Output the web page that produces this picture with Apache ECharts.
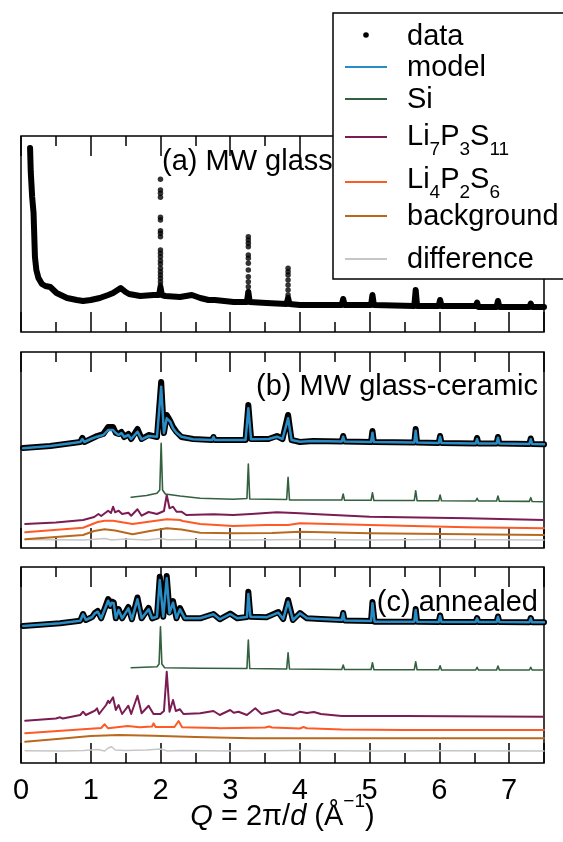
<!DOCTYPE html>
<html>
<head>
<meta charset="utf-8">
<script src="https://cdn.jsdelivr.net/npm/echarts@6/dist/echarts.min.js"></script>
<style>
    html, body { margin: 0; padding: 0; background: #fff; }
    #chart { width: 563px; height: 842px; }
</style>
</head>
<body>
<div id="chart"></div>
<script>
// 每个面板的强度数据 [Q, 强度]（任意单位，每个面板 0..196）
// (a) MW glass
const dataA = [[0.13,184],[0.14,160],[0.16,135],[0.18,119],[0.2,75],[0.22,62],[0.25,54],[0.3,48],[0.35,46],[0.42,45],[0.45,43],
    [0.51,39],[0.6,36],[0.66,34],[0.8,32],[0.89,31],[1.0,32],[1.13,34],[1.25,37],[1.32,39],[1.43,44],[1.5,40],[1.55,38],[1.71,36],
    [1.9,37],[1.98,37],[2.0,45],[2.02,37],[2.07,36],[2.28,35],[2.45,37],[2.57,34],[2.69,32],[2.78,32],[3.05,30],[3.24,30],[3.26,40],
    [3.28,30],[3.52,29],[3.81,28],[3.83,34],[3.85,28],[4.0,27],[4.6,27],[4.62,33],[4.64,27],[5.02,27],[5.04,37],[5.06,27],[5.64,26],
    [5.66,42],[5.68,26],[5.99,26],[6.01,32],[6.03,26],[6.52,26],[6.54,29.5],[6.56,25],[6.82,25],[6.84,31],[6.86,25],[7.29,25],
    [7.31,28.5],[7.33,25],[7.5,25]]
const dataPeaksA = [[2.0,152.7],[2.0,142],[2.0,138.7],[2.0,134.7],[2.0,114.7],[2.0,112],[2.0,101.3],[2.0,98.7],[2.0,95.3],[2.0,82],
    [2.0,78.7],[2.0,75.3],[2.0,71.3],[2.0,68],[2.0,63.7],[2.0,60.3],[2.0,57],[2.0,53.7],[2.0,50.3],[2.0,47],
    [3.26,95.3],[3.26,92],[3.26,88.7],[3.26,85.3],[3.26,77],[3.26,73.7],[3.26,68.7],[3.26,62],[3.26,55.3],[3.26,50.3],[3.26,45.3],[3.26,40.3],
    [3.83,63.7],[3.83,60.3],[3.83,57],[3.83,52],[3.83,47],[3.83,42],[3.83,37]]

// (b) MW glass-ceramic
const dataB = [[0.03,100],[0.42,102],[0.85,106],[0.88,110],[0.91,106],[1.0,109],[1.09,112],[1.18,114],[1.25,121],[1.32,121],[1.36,115],
    [1.4,114],[1.44,116],[1.48,111],[1.54,114],[1.58,109],[1.67,119],[1.73,109],[1.83,113],[1.95,111],[2.01,166],[2.05,115],
    [2.09,133],[2.14,127],[2.18,121],[2.23,116],[2.3,111],[2.47,109],[2.74,108],[2.76,111],[2.78,108],[3.04,108],[3.22,108],
    [3.26,143],[3.3,109],[3.55,109],[3.67,112],[3.75,109],[3.83,133],[3.88,108],[4.0,106],[4.19,107],[4.6,106.5],[4.62,112],
    [4.64,106.5],[5.02,106],[5.04,117],[5.06,106],[5.64,105.5],[5.66,119],[5.68,105.5],[5.99,105],[6.01,112],[6.03,105],
    [6.52,104.5],[6.54,110],[6.56,104.5],[6.82,104.5],[6.84,111],[6.86,104.5],[7.29,104],[7.31,109.5],[7.33,104],[7.5,103.7]]
const modelB = [[0.03,99.7],[0.42,102],[0.85,106],[0.88,109],[0.91,106],[1.0,109],[1.09,111.3],[1.18,113],[1.25,118],[1.32,118],
    [1.36,115],[1.4,113],[1.44,115],[1.48,111],[1.54,113],[1.58,109],[1.67,116.3],[1.73,108.7],[1.83,112],[1.95,111.3],
    [2.01,161.3],[2.05,115],[2.09,129.7],[2.14,126.3],[2.18,119.7],[2.23,115.3],[2.3,111.3],[2.47,108.7],[2.74,108],[2.76,111],
    [2.78,108],[3.04,108],[3.22,108],[3.26,139.7],[3.3,108.7],[3.55,109],[3.67,111.3],[3.75,109],[3.83,129.7],[3.88,108],
    [4.0,106.3],[4.19,107],[4.6,106.5],[4.62,111.3],[4.64,106.5],[5.02,106],[5.04,115.3],[5.06,106],[5.64,105.5],[5.66,117.3],
    [5.68,105.5],[5.99,105],[6.01,111.3],[6.03,105],[6.52,104.5],[6.54,109],[6.56,104.5],[6.82,104.5],[6.84,110.3],[6.86,104.5],
    [7.29,104],[7.31,108.7],[7.33,104],[7.5,103.7]]
const siB = [[1.58,50.7],[1.8,52.5],[1.95,54.7],[1.99,58],[2.01,104.7],[2.03,58],[2.07,54],[2.28,52],[2.57,49.7],[3.04,48.7],
    [3.24,49.5],[3.26,84],[3.28,49],[3.81,48.5],[3.83,70.7],[3.85,48],[4.6,48],[4.62,54],[4.64,47.7],[5.02,47.7],[5.04,55.3],
    [5.06,47.5],[5.64,47.5],[5.66,57.3],[5.68,47.3],[5.99,47.3],[6.01,53],[6.03,47.2],[6.52,47],[6.54,49.7],[6.56,47],[6.82,47],
    [6.84,52],[6.86,46.8],[7.29,46.6],[7.31,50.3],[7.33,46.5],[7.5,46.3]]
const li7B = [[0.06,24],[0.5,25.5],[0.89,28],[1.05,31],[1.11,34],[1.15,32],[1.25,37.3],[1.29,35],[1.32,41.3],[1.35,35.7],[1.4,37.3],
    [1.45,34],[1.54,35.3],[1.58,32.3],[1.67,38.7],[1.73,32.3],[1.83,36],[1.95,34],[2.05,37],[2.09,53],[2.13,39.7],[2.18,41.3],
    [2.23,36.3],[2.3,36.3],[2.37,33],[2.76,33.7],[3.04,33],[3.3,34],[3.67,35.7],[4.0,34.7],[4.19,34],[5.0,31.3],[6.41,29.7],[7.5,28]]
const li4B = [[0.06,15.7],[0.89,20.3],[1.1,26],[1.2,27.3],[1.32,27.3],[1.6,24],[1.83,26.3],[2.09,28.7],[2.28,28],[2.3,30],[2.32,27],
    [2.57,24],[3.04,22],[3.52,23],[3.83,23],[4.0,24.7],[5.0,23],[6.4,20.7],[7.5,19.7]]
const bgB = [[0.06,8.7],[0.89,13],[1.05,17],[1.2,18.7],[1.35,17.5],[1.6,13.7],[1.85,17],[2.09,19.7],[2.3,18.5],[2.57,15.3],[3.04,14.7],
    [3.6,15],[4.0,16.3],[5.0,14.7],[6.4,13.7],[7.5,13]]
const diffB = [[0.06,8.5],[0.9,8],[1.2,9.5],[1.3,8],[1.5,9],[1.8,8],[2.0,9.5],[2.1,8.3],[2.5,8.5],[3.2,8],[4.0,8.5],[5.0,8],[6.0,8.5],[7.5,8]]

// (c) annealed
const dataC = [[0.03,137],[0.56,139.7],[0.85,142.3],[0.89,149],[0.93,143],[1.02,146],[1.06,150],[1.1,152],[1.15,144.7],[1.25,164],
    [1.28,157],[1.3,161.5],[1.33,160.5],[1.36,144.7],[1.4,154],[1.45,144.7],[1.54,156],[1.59,143.7],[1.67,165.5],[1.73,144.7],
    [1.83,155],[1.88,144.7],[1.95,146.3],[1.99,186.3],[2.04,146.3],[2.09,187],[2.13,150.5],[2.18,162],[2.23,144.7],[2.28,155],
    [2.35,144.7],[2.57,144.7],[2.76,149],[2.85,143.7],[3.0,149.5],[3.1,144.7],[3.24,146],[3.26,171.3],[3.29,146.3],[3.52,145.7],
    [3.69,151],[3.76,144],[3.83,163],[3.9,143],[4.0,150],[4.1,144.7],[4.3,144],[4.6,143],[4.62,150],[4.64,142.5],[5.02,142],
    [5.04,161],[5.07,141.3],[5.64,141.3],[5.66,154],[5.68,141.3],[5.99,141],[6.01,147.5],[6.03,141],[6.52,141],[6.54,145],
    [6.56,141],[6.82,141],[6.84,146.5],[6.86,141],[7.29,140.8],[7.31,145],[7.33,140.7],[7.5,140.7]]
const modelC = [[0.03,137],[0.56,139.7],[0.85,142.3],[0.89,148.7],[0.93,143],[1.02,146],[1.06,149.7],[1.1,151.3],[1.15,144.7],
    [1.25,162.3],[1.28,157],[1.3,160.3],[1.33,159.7],[1.36,144.7],[1.4,153],[1.45,144.7],[1.54,154.7],[1.59,143.7],[1.67,163.7],
    [1.73,144.7],[1.83,153.7],[1.88,144.7],[1.95,146.3],[1.99,183],[2.04,146.3],[2.09,184.7],[2.13,149.7],[2.18,160.3],
    [2.23,144.7],[2.28,153.7],[2.35,144.7],[2.57,144.7],[2.76,148.7],[2.85,143.7],[3.0,149],[3.1,144.7],[3.24,146],[3.26,169],
    [3.29,146.3],[3.52,145.7],[3.69,150.3],[3.76,144],[3.83,161.3],[3.9,143],[4.0,149.7],[4.1,144.7],[4.3,144],[4.6,143],
    [4.62,149.7],[4.64,142.5],[5.02,142],[5.04,159.7],[5.07,141.3],[5.64,141.3],[5.66,153],[5.68,141.3],[5.99,141],[6.01,147],
    [6.03,141],[6.52,141],[6.54,144.7],[6.56,141],[6.82,141],[6.84,146.3],[6.86,141],[7.29,140.8],[7.31,144.7],[7.33,140.7],[7.5,140.7]]
const siC = [[1.58,95.3],[1.95,96.3],[1.98,99],[2.0,136.3],[2.02,99],[2.06,95.3],[2.57,94.7],[3.24,94.5],[3.26,123],[3.28,94.5],
    [3.81,94],[3.83,110.3],[3.85,94],[4.6,93.5],[4.62,98],[4.64,93.5],[5.02,93.5],[5.04,100.3],[5.06,93.3],[5.64,93.3],[5.66,101.3],
    [5.68,93.2],[5.99,93.2],[6.01,97.3],[6.03,93],[6.52,93],[6.54,95.7],[6.56,93],[6.82,93],[6.84,97],[6.86,93],[7.29,93],
    [7.31,95.7],[7.33,93],[7.5,93]]
const li7C = [[0.06,42.3],[0.5,44.5],[0.56,45.7],[0.6,44.5],[0.85,48],[0.89,51.3],[0.93,48],[1.02,51],[1.06,52.3],[1.09,54.7],
    [1.12,49],[1.22,58],[1.25,62.3],[1.27,60],[1.32,65.7],[1.36,53],[1.4,58],[1.45,49],[1.54,57.3],[1.58,49],[1.67,67.3],
    [1.73,49.7],[1.83,57.3],[1.9,49],[2.0,49],[2.05,52],[2.09,91.3],[2.13,51.3],[2.18,63],[2.22,52],[2.28,53.7],[2.33,49],
    [2.57,49.7],[2.76,52],[2.85,48],[3.0,53],[3.05,50.3],[3.12,51.3],[3.24,48],[3.36,54.7],[3.45,49],[3.69,53],[3.75,49.7],
    [3.9,48],[4.0,51.3],[4.1,50],[4.2,51],[4.3,49],[4.6,47],[5.5,47],[7.5,46.3]]
const li4C = [[0.06,29.7],[0.89,33.7],[1.15,35],[1.2,38.7],[1.25,34.7],[1.53,37],[1.7,35.7],[1.88,36.5],[1.9,39.7],[1.93,36],
    [2.2,36],[2.26,42],[2.28,43.7],[2.31,35.7],[2.8,35],[2.81,36],[2.85,34.7],[3.5,35.5],[3.52,37],[3.56,36.5],[3.6,35.5],
    [4.0,34.5],[4.05,36],[4.1,34.7],[4.6,33.5],[5.5,33],[7.5,33]]
const bgC = [[0.06,21.3],[0.6,24.5],[1.0,27],[1.4,28],[1.9,27.3],[2.5,26],[3.3,24.7],[4.0,24.7],[7.5,24.7]]
const diffC = [[0.06,12.3],[0.6,12],[0.9,12.5],[1.1,13.5],[1.2,12],[1.25,15],[1.3,16.3],[1.35,13],[1.5,12.5],[1.8,13],[2.0,14],
    [2.1,12],[2.3,12.5],[3.0,12],[4.0,12.5],[5.0,12],[6.0,12.3],[7.5,12]]

// 图例与标题
const legendNames = ['data', 'model', 'Si', 'Li{s|7}P{s|3}S{s|11}', 'Li{s|4}P{s|2}S{s|6}', 'background', 'difference']
const panelTitles = ['(a) MW glass', '(b) MW glass-ceramic', '(c) annealed']
const xTicks = { min: 0, max: 7.5, interval: 1 }

const colors = {
    data: '#000000',
    model: '#2a8cc4',
    si: '#33603f',
    li7: '#7b1d52',
    li4: '#ff5a26',
    bg: '#b8691e',
    diff: '#c6c6c6'
}
const font = "'Liberation Sans', Arial, Helvetica, sans-serif"
const panelTops = [136, 352, 567]

const chart = echarts.init(document.getElementById('chart'), null, { renderer: 'canvas' })

const grids = panelTops.map(top => ({
    left: 21, right: 19, top, height: 196,
    show: true, borderColor: '#000', borderWidth: 1.5,
    backgroundColor: 'transparent', outerBoundsMode: 'none'
}))

const xAxes = []
grids.forEach((g, i) => {
    ['bottom', 'top'].forEach(pos => {
        const isLabelled = i === 2 && pos === 'bottom'
        xAxes.push({
            gridIndex: i, type: 'value', position: pos,
            min: xTicks.min, max: xTicks.max, interval: xTicks.interval,
            axisLine: { show: false },
            axisTick: { show: true, inside: true, length: 20, lineStyle: { color: '#000', width: 1.5 } },
            minorTick: { show: true, splitNumber: 2, length: 10, lineStyle: { color: '#000', width: 1.5 } },
            splitLine: { show: false },
            minorSplitLine: { show: false },
            axisLabel: {
                show: isLabelled, fontSize: 29, color: '#000', fontFamily: font,
                margin: 13, showMaxLabel: false
            },
            name: isLabelled ? '{i|Q} = 2π/{i|d} (Å{sup|−1})' : '',
            nameLocation: 'middle',
            nameGap: 29,
            nameMoveOverlap: false,
            nameTextStyle: {
                fontSize: 29, color: '#000', fontFamily: font, lineHeight: 50,
                rich: {
                    i: { fontStyle: 'italic', fontSize: 29, fontFamily: font, color: '#000', lineHeight: 50 },
                    sup: { fontSize: 19, fontFamily: font, color: '#000', lineHeight: 20, verticalAlign: 'top' }
                }
            }
        })
    })
})

const yAxes = grids.map((g, i) => ({ gridIndex: i, type: 'value', min: 0, max: 196, show: false }))

function line(name, data, i, color, width, z) {
    return {
        name, type: 'line', xAxisIndex: i * 2, yAxisIndex: i, data,
        symbol: 'none', showSymbol: false, silent: true, z,
        lineStyle: { color, width, join: 'round', cap: 'round' },
        itemStyle: { color }
    }
}
function dots(name, data, i, z) {
    return {
        name, type: 'scatter', xAxisIndex: i * 2, yAxisIndex: i, data,
        symbol: 'circle', symbolSize: 5.5, silent: true, z,
        itemStyle: { color: '#000' }
    }
}

const series = [
    line('data', dataA, 0, colors.data, 6, 5),
    dots('data', dataPeaksA, 0, 5),

    line('difference', diffB, 1, colors.diff, 1.5, 2),
    line('background', bgB, 1, colors.bg, 2, 2),
    line('Li4P2S6', li4B, 1, colors.li4, 2, 2),
    line('Li7P3S11', li7B, 1, colors.li7, 2, 2),
    line('Si', siB, 1, colors.si, 1.6, 2),
    line('data', dataB, 1, colors.data, 6, 3),
    line('model', modelB, 1, colors.model, 2.5, 4),

    line('difference', diffC, 2, colors.diff, 1.5, 2),
    line('background', bgC, 2, colors.bg, 2, 2),
    line('Li4P2S6', li4C, 2, colors.li4, 2, 2),
    line('Li7P3S11', li7C, 2, colors.li7, 2, 2),
    line('Si', siC, 2, colors.si, 1.6, 2),
    line('data', dataC, 2, colors.data, 6, 3),
    line('model', modelC, 2, colors.model, 2.5, 4)
]

// 标题文字
const titleText = (text, x, y, align) => ({
    type: 'text', x, y, z: 50,
    style: { text, fontSize: 29, fontFamily: font, fill: '#000', align, verticalAlign: 'middle' }
})

// 图例（手工绘制，支持下标），放在单独的图层上
const legendItemY = [35, 67, 99, 137, 182, 216, 259]
const legendTextY = [37, 68, 100, 137, 180, 217, 260]
const legendColors = [colors.data, colors.model, colors.si, colors.li7, colors.li4, colors.bg, colors.diff]
const legendChildren = [{
    type: 'rect', z: 100, zlevel: 1, shape: { x: 333, y: 13, width: 240, height: 266 },
    style: { fill: '#fff', stroke: '#000', lineWidth: 1.5 }
}]
legendNames.forEach((name, k) => {
    if (k === 0) {
        legendChildren.push({
            type: 'circle', z: 101, zlevel: 1, shape: { cx: 366, cy: legendItemY[k], r: 2.8 }, style: { fill: '#000' }
        })
    } else {
        legendChildren.push({
            type: 'line', z: 101, zlevel: 1, shape: { x1: 345, y1: legendItemY[k], x2: 387, y2: legendItemY[k] },
            style: { stroke: legendColors[k], lineWidth: 2 }
        })
    }
    legendChildren.push({
        type: 'text', z: 101, zlevel: 1, x: 407, y: legendTextY[k],
        style: {
            text: name, fontSize: 29, fontFamily: font, fill: '#000', lineHeight: 44,
            align: 'left', verticalAlign: 'middle',
            rich: { s: { fontSize: 19, fontFamily: font, fill: '#000', lineHeight: 20, verticalAlign: 'bottom' } }
        }
    })
})

const option = {
    animation: false,
    backgroundColor: '#fff',
    grid: grids,
    xAxis: xAxes,
    yAxis: yAxes,
    series,
    graphic: [
        titleText(panelTitles[0], 162, 162, 'left'),
        titleText(panelTitles[1], 538, 387, 'right'),
        titleText(panelTitles[2], 538, 603, 'right'),
        { type: 'group', z: 100, zlevel: 1, children: legendChildren }
    ]
}

chart.setOption(option)
</script>
</body>
</html>
